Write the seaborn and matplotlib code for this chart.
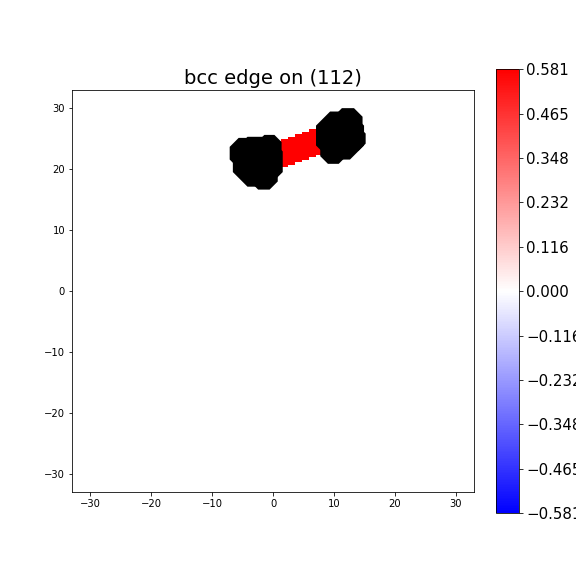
import numpy as np
import pandas as pd
import matplotlib
matplotlib.use("Agg")
import matplotlib.pyplot as plt
import seaborn as sns

# Red (positive) sites between the two cores
red_x = [0.7, 0.7, 0.7, 0.7,
         1.9, 1.9, 1.9, 1.9,
         3.0, 3.0, 3.0, 3.0,
         4.2, 4.2, 4.2, 4.2,
         5.3, 5.3, 5.3, 5.3,
         6.5, 6.5, 6.5, 6.5,
         7.6, 7.6, 7.6, 7.6,
         8.8, 8.8, 8.8, 8.8]
red_y = [20.5, 21.65, 22.8, 23.95,
         20.9, 22.05, 23.2, 24.35,
         21.3, 22.45, 23.6, 24.75,
         21.7, 22.85, 24.0, 25.15,
         22.1, 23.25, 24.4, 25.55,
         22.5, 23.65, 24.8, 25.95,
         22.9, 24.05, 25.2, 26.35,
         23.3, 24.45, 25.6, 26.75]
red_val = [0.581] * len(red_x)

# Black core blobs
core_x = [-2.5, -4.6, -1.5, -0.6, 11.0, 12.3, 9.9, 13.2]
core_y = [21.2, 22.6, 18.9, 23.6, 25.5, 27.6, 23.0, 25.0]
core_s = [2916, 1100, 900, 700, 2704, 1000, 800, 700]

cbar_ticks = [-0.581, -0.4648, -0.3486, -0.2324, -0.1162, 0.0,
              0.1162, 0.2324, 0.3486, 0.4648, 0.581]
cbar_labels = ["\u22120.581", "\u22120.465", "\u22120.348", "\u22120.232", "\u22120.116",
               "0.000", "0.116", "0.232", "0.348", "0.465", "0.581"]
vmin, vmax = -0.581, 0.581

fig = plt.figure(figsize=(8, 8), dpi=72)
ax = fig.add_axes([0.125, 0.146, 0.698, 0.698])

red_df = pd.DataFrame({"x": red_x, "y": red_y, "v": red_val})
sns.scatterplot(data=red_df, x="x", y="y", hue="v", palette="bwr",
                hue_norm=(vmin, vmax), marker="s", s=49, linewidth=0,
                legend=False, ax=ax, zorder=2)

core_df = pd.DataFrame({"x": core_x, "y": core_y, "s": core_s})
sns.scatterplot(data=core_df, x="x", y="y", size="s",
                sizes=(min(core_s), max(core_s)), size_norm=(min(core_s), max(core_s)),
                color="black", marker="8", linewidth=0, legend=False, ax=ax, zorder=3)

ax.set_xlim(-33, 33)
ax.set_ylim(-33, 33)
ax.set_xticks([-30, -20, -10, 0, 10, 20, 30])
ax.set_yticks([-30, -20, -10, 0, 10, 20, 30])
ax.set_xlabel("")
ax.set_ylabel("")
ax.tick_params(labelsize=10)
ax.set_title("bcc edge on (112)", fontsize=19.5)

cax = fig.add_axes([496 / 576, 0.109, 23 / 576, 0.771])
sm = matplotlib.cm.ScalarMappable(norm=matplotlib.colors.Normalize(vmin, vmax), cmap="bwr")
cb = fig.colorbar(sm, cax=cax)
cb.set_ticks(cbar_ticks)
cb.set_ticklabels(cbar_labels)
cb.ax.tick_params(labelsize=15)

fig.savefig("out.png", dpi=72)
